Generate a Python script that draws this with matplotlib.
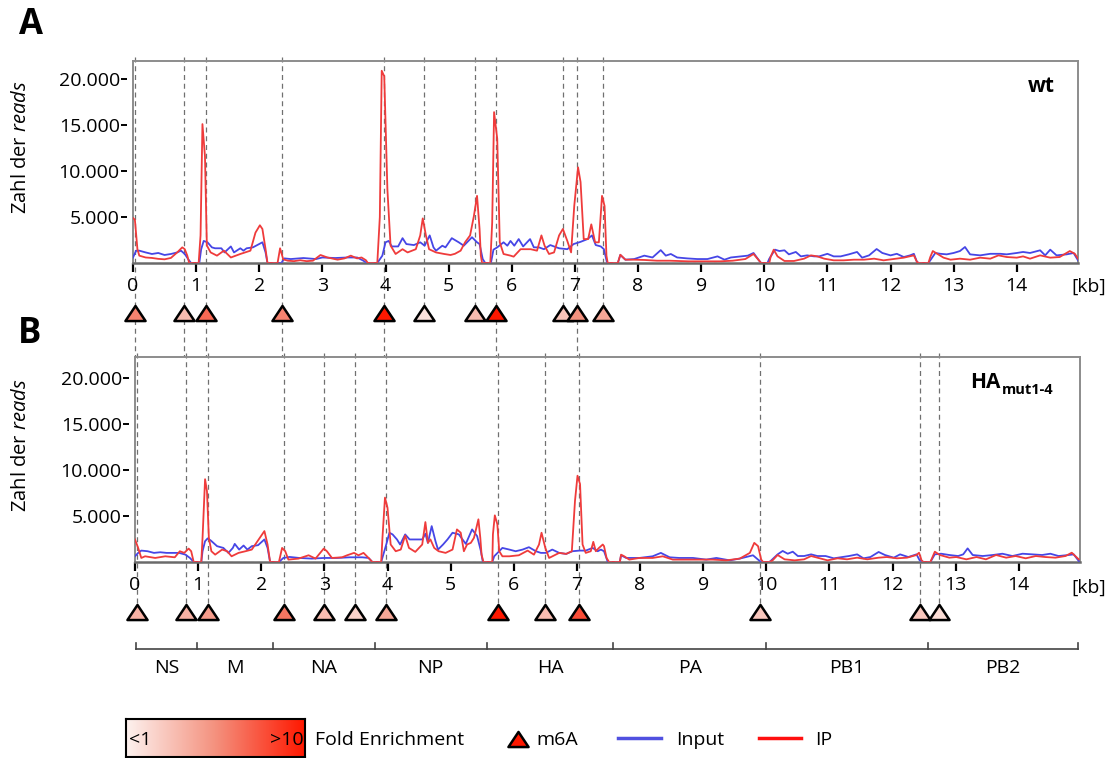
import numpy as np
import matplotlib.pyplot as plt
from matplotlib.colors import LinearSegmentedColormap
from matplotlib.lines import Line2D
from matplotlib.path import Path

plt.rcParams['font.family'] = ['Open Sans', 'DejaVu Sans']
plt.rcParams['mathtext.fontset'] = 'custom'
plt.rcParams['mathtext.rm'] = 'Open Sans'
plt.rcParams['mathtext.it'] = 'Open Sans:italic'

# ---- coverage traces, wt (panel A) ----
wt_ip_kb = [0.00, 0.03, 0.07, 0.10, 0.20, 0.30, 0.40, 0.50, 0.60, 0.70, 0.78, 0.82, 0.86, 0.89,
            1.04, 1.07, 1.10, 1.14, 1.17, 1.23, 1.33, 1.44, 1.55, 1.70, 1.86, 1.94, 2.01, 2.05,
            2.10, 2.13, 2.29, 2.33, 2.38, 2.45, 2.55, 2.65, 2.75, 2.85, 2.97, 3.08, 3.24, 3.35,
            3.45, 3.55, 3.62, 3.69, 3.72, 3.87, 3.91, 3.94, 3.98, 4.03, 4.08, 4.16, 4.27, 4.35,
            4.48, 4.55, 4.59, 4.64, 4.69, 4.80, 4.93, 5.03, 5.10, 5.19, 5.26, 5.34, 5.40, 5.45,
            5.49, 5.51, 5.53, 5.66, 5.69, 5.72, 5.77, 5.81, 5.87, 5.98, 6.03, 6.14, 6.30, 6.40,
            6.47, 6.52, 6.59, 6.67, 6.75, 6.81, 6.88, 6.94, 6.99, 7.05, 7.09, 7.14, 7.21, 7.26,
            7.32, 7.38, 7.43, 7.47, 7.50, 7.52, 7.68, 7.72, 7.80, 7.94, 8.10, 8.30, 8.50, 8.80,
            9.00, 9.30, 9.50, 9.70, 9.83, 9.92, 9.95, 10.08, 10.10, 10.15, 10.21, 10.32, 10.47,
            10.63, 10.74, 10.84, 10.95, 11.10, 11.26, 11.42, 11.58, 11.74, 11.89, 12.05, 12.21,
            12.37, 12.42, 12.45, 12.60, 12.63, 12.67, 12.74, 12.84, 12.95, 13.10, 13.26, 13.42,
            13.58, 13.71, 13.84, 14.00, 14.10, 14.21, 14.37, 14.53, 14.68, 14.84, 14.92, 14.97]
wt_ip = [4900, 4700, 1500, 800, 600, 550, 450, 400, 550, 1150, 1700, 1500, 800, 0,
         0, 3000, 15100, 11600, 1900, 1150, 800, 1340, 600, 980, 1340, 3300, 4100, 3700,
         1500, 0, 0, 1600, 400, 250, 200, 300, 200, 250, 870, 600, 360, 500,
         800, 500, 600, 300, 0, 0, 5000, 20900, 20300, 8000, 1900, 980, 1500, 1150,
         1500, 3000, 4850, 3000, 1500, 1150, 980, 870, 1000, 1340, 2250, 3000, 5100, 7300,
         3700, 800, 0, 0, 4400, 16400, 13500, 2250, 980, 800, 690, 1500, 1500, 1340,
         3000, 1880, 980, 1150, 3000, 3700, 2400, 1150, 6200, 10400, 8800, 2600, 2600, 4200,
         2250, 2250, 7300, 6200, 800, 0, 0, 900, 360, 360, 330, 250, 250, 180,
         180, 180, 250, 430, 980, 250, 0, 0, 650, 1450, 720, 220, 220,
         470, 830, 720, 470, 290, 290, 360, 360, 470, 290, 430, 580,
         830, 100, 0, 0, 650, 1300, 1000, 580, 360, 470, 360, 580,
         470, 830, 650, 580, 720, 470, 830, 580, 650, 1300, 1000, 470]

wt_in_kb = [0.00, 0.05, 0.10, 0.20, 0.30, 0.40, 0.50, 0.60, 0.70, 0.76, 0.82, 0.88, 0.92, 1.05,
            1.08, 1.12, 1.18, 1.25, 1.30, 1.40, 1.45, 1.55, 1.60, 1.70, 1.75, 1.80, 1.90, 2.00,
            2.05, 2.10, 2.13, 2.35, 2.40, 2.50, 2.70, 2.90, 3.00, 3.20, 3.40, 3.55, 3.65, 3.70,
            3.87, 3.95, 4.00, 4.05, 4.10, 4.20, 4.27, 4.33, 4.45, 4.55, 4.62, 4.70, 4.76, 4.80,
            4.90, 4.95, 5.05, 5.16, 5.24, 5.37, 5.45, 5.49, 5.54, 5.58, 5.67, 5.71, 5.77, 5.87,
            5.93, 5.98, 6.04, 6.11, 6.18, 6.29, 6.35, 6.43, 6.51, 6.61, 6.75, 6.88, 6.98, 7.09,
            7.20, 7.27, 7.33, 7.41, 7.46, 7.51, 7.68, 7.72, 7.80, 7.94, 8.10, 8.23, 8.36, 8.44,
            8.52, 8.62, 8.78, 8.94, 9.10, 9.26, 9.37, 9.47, 9.63, 9.74, 9.83, 9.92, 9.95, 10.05,
            10.08, 10.17, 10.24, 10.32, 10.39, 10.50, 10.58, 10.68, 10.79, 10.87, 11.00, 11.10,
            11.21, 11.34, 11.47, 11.55, 11.66, 11.78, 11.87, 12.00, 12.10, 12.21, 12.31, 12.37,
            12.42, 12.45, 12.60, 12.63, 12.71, 12.79, 12.89, 13.00, 13.10, 13.18, 13.26, 13.42,
            13.58, 13.74, 13.84, 14.00, 14.10, 14.21, 14.37, 14.45, 14.53, 14.63, 14.79, 14.90,
            14.97]
wt_in = [600, 1340, 1340, 1150, 980, 1090, 870, 980, 1150, 1340, 980, 360, 0, 0,
         1500, 2400, 2250, 1700, 1600, 1600, 1150, 1800, 1150, 1600, 1340, 1600, 1700, 2060,
         2250, 1150, 0, 0, 500, 430, 540, 430, 600, 540, 600, 600, 250, 0,
         0, 800, 2250, 2400, 1800, 1800, 2700, 2060, 1950, 2250, 1880, 3000, 1700, 1340,
         1880, 1700, 2700, 2250, 1880, 2800, 2250, 2060, 430, 0, 0, 1450, 1700, 2250,
         1880, 2400, 1880, 2600, 1800, 2600, 1700, 1700, 1500, 1950, 1600, 1500, 2060, 2300,
         2600, 3000, 1950, 1800, 1500, 0, 0, 870, 360, 430, 800, 600, 1400, 800,
         980, 600, 500, 430, 430, 720, 360, 600, 720, 800, 1090, 250, 0, 0,
         470, 1450, 1300, 1380, 940, 1200, 720, 830, 720, 720, 1000, 720,
         720, 940, 1200, 580, 830, 1520, 1090, 830, 1000, 650, 830, 1000,
         100, 0, 0, 290, 1090, 1000, 940, 1090, 1300, 1740, 940, 830,
         1000, 1000, 940, 1090, 1200, 1090, 1380, 830, 1450, 830, 940, 1090,
         290]

# ---- coverage traces, HA mut1-4 (panel B) ----
mut_ip_kb = [0.00, 0.05, 0.10, 0.16, 0.32, 0.48, 0.63, 0.71, 0.78, 0.85, 0.89, 0.93, 1.05, 1.07,
             1.11, 1.14, 1.17, 1.21, 1.27, 1.38, 1.46, 1.53, 1.64, 1.75, 1.85, 1.96, 2.05, 2.10,
             2.14, 2.28, 2.33, 2.38, 2.43, 2.59, 2.75, 2.86, 2.99, 3.04, 3.12, 3.28, 3.36, 3.47,
             3.54, 3.62, 3.70, 3.76, 3.90, 3.92, 3.96, 4.00, 4.05, 4.13, 4.21, 4.28, 4.34, 4.44,
             4.55, 4.60, 4.64, 4.68, 4.74, 4.81, 4.92, 5.03, 5.10, 5.16, 5.21, 5.26, 5.32, 5.37,
             5.44, 5.47, 5.49, 5.52, 5.66, 5.67, 5.70, 5.74, 5.77, 5.82, 5.93, 6.08, 6.22, 6.32,
             6.40, 6.44, 6.50, 6.56, 6.72, 6.83, 6.92, 6.97, 7.01, 7.05, 7.09, 7.14, 7.22, 7.26,
             7.30, 7.35, 7.41, 7.43, 7.47, 7.51, 7.68, 7.70, 7.75, 7.83, 7.99, 8.20, 8.36, 8.52,
             8.73, 8.94, 9.15, 9.37, 9.58, 9.74, 9.81, 9.87, 9.92, 9.95, 10.05, 10.10, 10.18,
             10.29, 10.45, 10.60, 10.71, 10.81, 10.97, 11.13, 11.28, 11.44, 11.60, 11.78, 11.91,
             12.07, 12.23, 12.38, 12.42, 12.46, 12.49, 12.60, 12.64, 12.67, 12.75, 12.90, 13.01,
             13.17, 13.33, 13.48, 13.64, 13.80, 13.95, 14.11, 14.27, 14.42, 14.58, 14.74, 14.84,
             14.95]
mut_ip = [2450, 1530, 440, 620, 440, 620, 510, 1170, 990, 1460, 1170, 0, 0, 2630,
          9000, 7700, 2630, 1170, 800, 1350, 1170, 620, 990, 1170, 1350, 2450, 3360, 1900,
          0, 0, 1530, 1170, 260, 370, 730, 370, 1460, 1170, 440, 510, 730, 990,
          730, 990, 440, 0, 0, 2630, 7000, 5900, 1900, 1170, 1350, 2880, 1530, 1100,
          1900, 4340, 2080, 2450, 1530, 1170, 990, 1350, 3540, 3180, 1170, 1900, 2080, 2630,
          4640, 2630, 800, 0, 0, 3000, 5070, 4100, 1170, 620, 620, 730, 1240, 800,
          1900, 3180, 1530, 440, 990, 880, 1170, 6640, 9380, 8470, 1900, 990, 1170, 2190,
          1170, 1530, 1900, 1720, 440, 0, 0, 800, 620, 260, 440, 440, 620, 260,
          260, 260, 260, 180, 370, 990, 2080, 1720, 260, 0, 0, 180, 760,
          290, 180, 290, 650, 470, 180, 400, 290, 470, 290, 470, 540,
          400, 470, 760, 1010, 180, 0, 0, 650, 1120, 760, 470, 540,
          290, 540, 290, 760, 470, 650, 400, 650, 540, 470, 650, 1010,
          290]

mut_in_kb = [0.00, 0.05, 0.10, 0.20, 0.30, 0.40, 0.50, 0.60, 0.70, 0.80, 0.87, 0.93, 1.05, 1.07,
             1.11, 1.15, 1.20, 1.30, 1.40, 1.48, 1.55, 1.58, 1.65, 1.72, 1.78, 1.85, 1.95, 2.05,
             2.10, 2.14, 2.28, 2.35, 2.45, 2.60, 2.80, 3.00, 3.20, 3.40, 3.60, 3.70, 3.76, 3.90,
             3.98, 4.03, 4.08, 4.15, 4.20, 4.28, 4.35, 4.45, 4.55, 4.60, 4.64, 4.70, 4.76, 4.80,
             4.88, 4.95, 5.03, 5.13, 5.24, 5.34, 5.42, 5.48, 5.51, 5.66, 5.69, 5.82, 5.93, 6.03,
             6.14, 6.24, 6.35, 6.43, 6.51, 6.61, 6.72, 6.83, 6.93, 7.04, 7.14, 7.25, 7.33, 7.38,
             7.43, 7.49, 7.68, 7.70, 7.78, 7.99, 8.20, 8.33, 8.47, 8.62, 8.84, 9.05, 9.21, 9.42,
             9.58, 9.79, 9.87, 9.92, 10.05, 10.08, 10.18, 10.26, 10.34, 10.42, 10.50, 10.60,
             10.71, 10.81, 10.94, 11.07, 11.20, 11.31, 11.44, 11.54, 11.65, 11.78, 11.88, 12.02,
             12.12, 12.25, 12.38, 12.43, 12.49, 12.60, 12.67, 12.77, 12.90, 13.04, 13.12, 13.19,
             13.27, 13.43, 13.59, 13.74, 13.90, 14.06, 14.21, 14.37, 14.50, 14.63, 14.79, 14.87,
             14.95]
mut_in = [620, 990, 1240, 1170, 990, 1060, 990, 990, 990, 800, 440, 0, 0, 1170,
          2260, 2560, 2340, 1720, 1530, 990, 1530, 1970, 1350, 1790, 1350, 1720, 1830, 2450,
          1530, 0, 0, 440, 550, 440, 370, 440, 440, 510, 510, 440, 0, 0,
          1900, 3180, 3000, 2450, 1900, 3000, 2450, 2450, 2450, 3070, 2080, 3900, 2260, 1350,
          1900, 2450, 3180, 3000, 1970, 3540, 2810, 1170, 0, 0, 620, 1530, 1350, 1170,
          1350, 1610, 1170, 990, 990, 1350, 990, 880, 1170, 1240, 1240, 1530, 1170, 1350,
          1170, 0, 0, 730, 440, 440, 620, 990, 510, 440, 440, 260, 440, 180,
          370, 730, 260, 0, 0, 180, 830, 1200, 900, 1120, 650, 650,
          830, 650, 650, 400, 540, 650, 830, 400, 540, 1090, 760, 470,
          830, 540, 830, 180, 0, 0, 830, 900, 760, 650, 830, 1480,
          760, 650, 760, 900, 650, 900, 830, 760, 900, 650, 760, 830,
          110]

# ---- m6A sites (kb) and their fold enrichment ----
wt_site_kb = [0.03, 0.81, 1.16, 2.36, 3.98, 4.61, 5.42, 5.75, 6.81, 7.04, 7.45]
wt_site_fold = [6.0, 3.5, 7.0, 6.0, 10.0, 1.8, 3.5, 10.0, 3.2, 5.5, 4.5]
mut_site_kb = [0.03, 0.81, 1.16, 2.36, 3.00, 3.48, 3.98, 5.75, 6.50, 7.04, 9.90, 12.43, 12.73]
mut_site_fold = [4.0, 4.0, 5.0, 6.5, 3.5, 2.5, 4.5, 10.0, 3.5, 8.0, 3.0, 3.0, 2.0]

# ---- genome segments ----
seg_names = ['NS', 'M', 'NA', 'NP', 'HA', 'PA', 'PB1', 'PB2']
seg_bounds = [0.02, 0.98, 2.18, 3.80, 5.57, 7.58, 10.0, 12.56, 14.94]

y_ticks = [5000, 10000, 15000, 20000]
y_tick_labels = ['5.000', '10.000', '15.000', '20.000']

RED = '#ef3b3b'
BLUE = '#4646e6'
GRID = '#707070'
FS = 14
W, H = 1112, 758

fold_cmap = LinearSegmentedColormap.from_list('fold', ['#fdf2ef', '#f4917e', '#ff1800'])
tri = Path([(-1, -0.75), (1, -0.75), (0, 0.75), (-1, -0.75)],
           [Path.MOVETO, Path.LINETO, Path.LINETO, Path.CLOSEPOLY])


def fx(px):
    return px / W


def fy(py):
    return 1 - py / H


def box(left, top, right, bottom):
    return [fx(left), fy(bottom), (right - left) / W, (bottom - top) / H]


def fold_color(f):
    return fold_cmap(min(max((f - 1) / 9.0, 0), 1))


fig = plt.figure(figsize=(11.12, 7.58), dpi=100)
ax_a = fig.add_axes(box(133, 61, 1078, 263))
ax_b = fig.add_axes(box(135, 357, 1080, 562))


def setup_panel(ax, ymax):
    ax.set_xlim(0, 14.97)
    ax.set_ylim(0, ymax)
    ax.set_xticks(np.arange(15))
    ax.set_xticklabels([str(i) for i in range(15)])
    ax.set_yticks(y_ticks)
    ax.set_yticklabels(y_tick_labels)
    ax.tick_params(axis='x', direction='out', length=6.5, width=1.6, color='black',
                   labelsize=FS, pad=3.5)
    ax.tick_params(axis='y', length=0, labelsize=FS, pad=9.5)
    for s in ['top', 'right', 'left']:
        ax.spines[s].set_color('#8c8c8c')
        ax.spines[s].set_linewidth(1.4)
    ax.spines['bottom'].set_color('#6a6a6a')
    ax.spines['bottom'].set_linewidth(1.8)
    # short y tick dashes, set off from the frame
    tr = ax.get_yaxis_transform()
    for v in y_ticks:
        ax.plot([-12.5 / 945, -6 / 945], [v, v], transform=tr, color='black', lw=1.4,
                clip_on=False, solid_capstyle='butt')
    ax.axhline(0, color='#9a9a9a', lw=1, ls=(0, (3, 2)), zorder=4)


def draw_sites(ax, kb, fold, top, bottom_for, tri_y):
    tr = ax.get_xaxis_transform()
    for k, f in zip(kb, fold):
        ax.plot([k, k], [top, bottom_for(k)], transform=tr, color=GRID, lw=0.9,
                ls=(0, (4, 3)), clip_on=False, zorder=1)
        ax.plot([k], [tri_y], transform=tr, marker=tri, markersize=14.5,
                markerfacecolor=fold_color(f), markeredgecolor='black',
                markeredgewidth=1.8, clip_on=False, zorder=6, linestyle='none')


setup_panel(ax_a, 21960)
setup_panel(ax_b, 22280)

ax_a.plot(wt_in_kb, wt_in, color=BLUE, lw=1.3, zorder=3)
ax_a.plot(wt_ip_kb, wt_ip, color=RED, lw=1.3, zorder=3)
ax_b.plot(mut_in_kb, mut_in, color=BLUE, lw=1.3, zorder=3)
ax_b.plot(mut_ip_kb, mut_ip, color=RED, lw=1.3, zorder=3)

# sites shared by both viruses run down into panel B
shared = set(mut_site_kb)
draw_sites(ax_a, wt_site_kb, wt_site_fold, 1.02,
           lambda k: (263 - 357) / 202 if k in shared else -0.2475, -0.2475)
draw_sites(ax_b, mut_site_kb, mut_site_fold, 1.02, lambda k: -0.244, -0.244)

# segment map under panel B
trb = ax_b.get_xaxis_transform()
y_bar = (562 - 649) / 205
y_tick_top = (562 - 643) / 205
ax_b.plot([seg_bounds[0], seg_bounds[-1]], [y_bar, y_bar], transform=trb, color='#444444',
          lw=1.2, clip_on=False)
for b in seg_bounds:
    ax_b.plot([b, b], [y_bar, y_tick_top], transform=trb, color='#444444', lw=1.2, clip_on=False)
for name, a, b in zip(seg_names, seg_bounds[:-1], seg_bounds[1:]):
    ax_b.text((a + b) / 2, (562 - 668) / 205, name, transform=trb, ha='center', va='center',
              fontsize=FS)

# panel titles and axis texts
fig.text(fx(31), fy(25), 'A', fontsize=25, fontweight='bold', ha='center', va='center')
fig.text(fx(30), fy(334), 'B', fontsize=25, fontweight='bold', ha='center', va='center')
fig.text(fx(21), fy(147), 'Zahl der $\\mathit{reads}$', rotation=90, fontsize=FS + 0.5,
         ha='center', va='center')
fig.text(fx(21), fy(445), 'Zahl der $\\mathit{reads}$', rotation=90, fontsize=FS + 0.5,
         ha='center', va='center')
fig.text(fx(1089), fy(287), '[kb]', fontsize=FS, ha='center', va='center')
fig.text(fx(1089), fy(588), '[kb]', fontsize=FS, ha='center', va='center')
fig.text(fx(1041), fy(86), 'wt', fontsize=15, fontweight='bold', ha='center', va='center')
fig.text(fx(1001), fy(388), 'HA', fontsize=15, fontweight='bold', ha='right', va='baseline')
fig.text(fx(1002), fy(394), 'mut1-4', fontsize=10.5, fontweight='bold', ha='left',
         va='baseline')

# legend
ax_grad = fig.add_axes(box(126, 719, 305, 757))
ax_grad.imshow(np.linspace(0, 1, 256)[None, :], cmap=fold_cmap, aspect='auto',
               extent=[0, 1, 0, 1])
ax_grad.set_xticks([])
ax_grad.set_yticks([])
for s in ax_grad.spines.values():
    s.set_color('black')
    s.set_linewidth(1.5)
fig.text(fx(129), fy(740), '<1', fontsize=FS, ha='left', va='center')
fig.text(fx(304), fy(740), '>10', fontsize=FS, ha='right', va='center')
fig.text(fx(315), fy(740), 'Fold Enrichment', fontsize=FS, ha='left', va='center')
fig.add_artist(Line2D([fx(518)], [fy(739)], marker=tri, markersize=14.5,
                      markerfacecolor='#ff1800', markeredgecolor='black',
                      markeredgewidth=1.8, linestyle='none', transform=fig.transFigure))
fig.text(fx(536), fy(740), 'm6A', fontsize=FS, ha='left', va='center')
fig.add_artist(Line2D([fx(618), fx(661)], [fy(738), fy(738)], color='#5050e0', lw=2.5,
                      transform=fig.transFigure))
fig.text(fx(676), fy(740), 'Input', fontsize=FS, ha='left', va='center')
fig.add_artist(Line2D([fx(759), fx(801)], [fy(738), fy(738)], color='#ff1010', lw=2.5,
                      transform=fig.transFigure))
fig.text(fx(815), fy(740), 'IP', fontsize=FS, ha='left', va='center')

fig.savefig('out.png', dpi=100)
